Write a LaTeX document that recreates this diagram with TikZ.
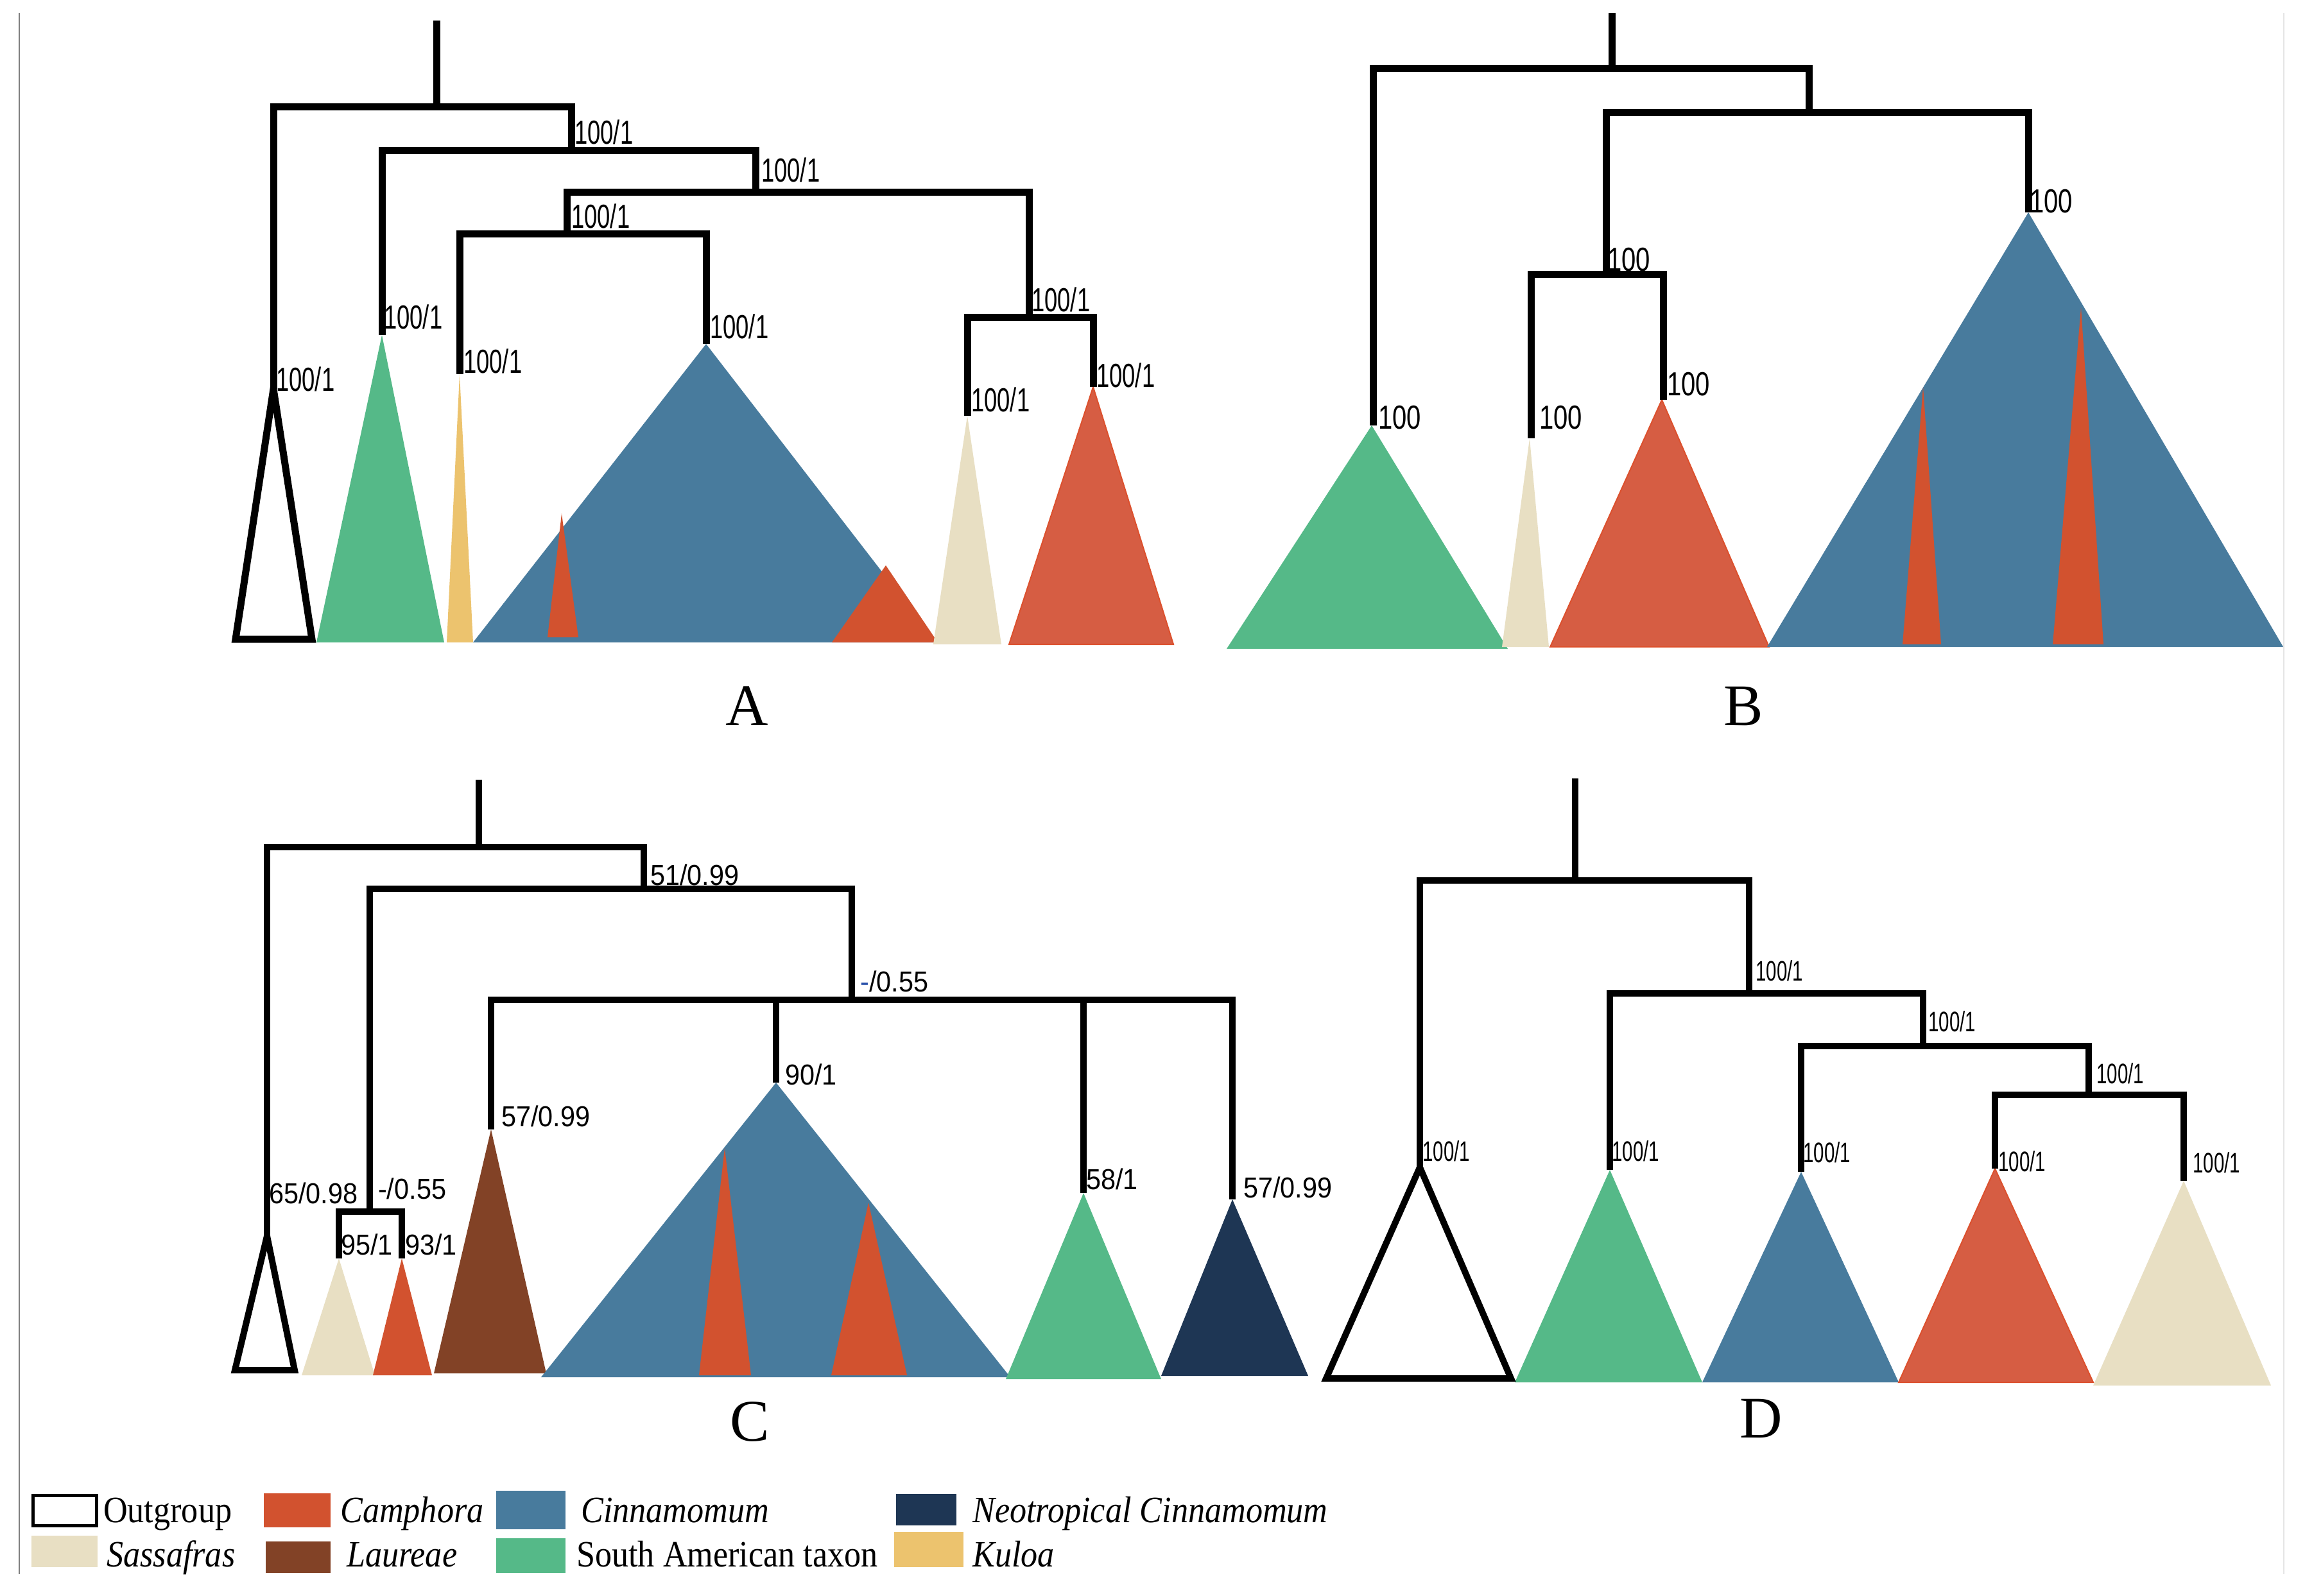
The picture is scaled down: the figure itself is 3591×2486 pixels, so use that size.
\documentclass[tikz,border=0pt]{standalone}
\usepackage{fontspec}
\setmainfont{Liberation Serif}
\newfontfamily\lblfA[FakeStretch=0.70]{Liberation Sans}
\newfontfamily\lblfB[FakeStretch=0.77]{Liberation Sans}
\newfontfamily\lblfC[FakeStretch=0.92]{Liberation Sans}
\newfontfamily\lblfD[FakeStretch=0.67]{Liberation Sans}
\newfontfamily\legf[FakeStretch=0.9]{Liberation Serif}
\definecolor{cgreen}{RGB}{85,185,136}
\definecolor{cblue}{RGB}{72,123,157}
\definecolor{ccam}{RGB}{210,82,47}
\definecolor{ccamL}{RGB}{214,93,67}
\definecolor{ccamE}{RGB}{220,80,45}
\definecolor{csas}{RGB}{232,223,195}
\definecolor{ckul}{RGB}{236,195,110}
\definecolor{clau}{RGB}{130,66,38}
\definecolor{cneo}{RGB}{30,54,84}
\definecolor{dashblue}{RGB}{40,80,170}
\tikzset{
  brA/.style={draw=black, line width=11pt, line join=miter},
  brC/.style={draw=black, line width=10pt, line join=miter},
  lblA/.style={font=\lblfA\fontsize{52}{52}\selectfont, inner sep=0pt, anchor=base west},
  lblB/.style={font=\lblfB\fontsize{52}{52}\selectfont, inner sep=0pt, anchor=base west},
  lblC/.style={font=\lblfC\fontsize{45}{45}\selectfont, inner sep=0pt, anchor=base west},
  lblD/.style={font=\lblfD\fontsize{44}{44}\selectfont, inner sep=0pt, anchor=base west},
  panel/.style={font=\fontsize{92}{92}\selectfont, inner sep=0pt, anchor=base},
  legtext/.style={font=\legf\fontsize{58}{58}\selectfont, inner sep=0pt, anchor=base west},
  bigcam/.style={fill=ccamL, draw=ccamE, line width=2pt, line join=miter},
}
\begin{document}
\begin{tikzpicture}[x=1pt,y=-1pt]
\useasboundingbox (0,0) rectangle (3591,2486);
\fill[white] (0,0) rectangle (3591,2486);
% frame lines
\draw[gray, line width=2.5pt] (30,20) -- (30,2453);
\draw[black!10, line width=1.5pt] (3558,20) -- (3558,2453);

% ================= Panel A =================
\coordinate (Atop) at (680,32);
\coordinate (A1) at (680,166);
\coordinate (Aout) at (426,606);
\coordinate (A2) at (890,234);
\coordinate (Agrn) at (595,522);
\coordinate (A3) at (1177,299);
\coordinate (A4) at (883,364);
\coordinate (Akul) at (716,583);
\coordinate (Acin) at (1100,536);
\coordinate (A5) at (1603,494);
\coordinate (Asas) at (1507,648);
\coordinate (Acam) at (1703,603);
\fill[cgreen] (Agrn) -- (692,1001) -- (493,1001) -- cycle;
\fill[ckul] (Akul) -- (737,1001) -- (696,1001) -- cycle;
\fill[cblue] (Acin) -- (1459,1001) -- (737,1001) -- cycle;
\fill[ccam] (875,800) -- (901,993) -- (853,993) -- cycle;
\fill[ccam] (1380,881) -- (1461,1001) -- (1296,1001) -- cycle;
\fill[csas] (Asas) -- (1560,1004) -- (1454,1004) -- cycle;
\draw[bigcam] (Acam) -- (1828,1004) -- (1572,1004) -- cycle;
\draw[brA] (Atop) -- (A1);
\draw[brA] (Aout) |- (A1) -| (A2);
\draw[brA] (Agrn) |- (A2) -| (A3);
\draw[brA] (A4) |- (A3) -| (A5);
\draw[brA] (Akul) |- (A4) -| (Acin);
\draw[brA] (Asas) |- (A5) -| (Acam);
\draw[brA, fill=white] (Aout) -- (486,996) -- (367,996) -- cycle;
\node[lblA] (lAout) at (430,609) {100/1};
\node[lblA] (lA2) at (895,224) {100/1};
\node[lblA] (lAgrn) at (598,512) {100/1};
\node[lblA] (lA3) at (1186,283) {100/1};
\node[lblA] (lA4) at (890,355) {100/1};
\node[lblA] (lAkul) at (722,581) {100/1};
\node[lblA] (lAcin) at (1106,527) {100/1};
\node[lblA] (lA5) at (1607,485) {100/1};
\node[lblA] (lAsas) at (1513,641) {100/1};
\node[lblA] (lAcam) at (1708,603) {100/1};
\node[panel] (pA) at (1164,1130) {A};

% ================= Panel B =================
\coordinate (Btop) at (2511,20);
\coordinate (B1) at (2511,107);
\coordinate (Bgrn) at (2139,663);
\coordinate (B2) at (2818,175);
\coordinate (B3) at (2502,427);
\coordinate (Bsas) at (2385,683);
\coordinate (Bcam) at (2591,623);
\coordinate (Bcin) at (3160,331);
\fill[cgreen] (2137,663) -- (2349,1011) -- (1911,1011) -- cycle;
\fill[csas] (2383,683) -- (2413,1008) -- (2340,1008) -- cycle;
\draw[bigcam] (2589,623) -- (2756,1008) -- (2415,1008) -- cycle;
\fill[cblue] (Bcin) -- (3557,1008) -- (2753,1008) -- cycle;
\fill[ccam] (2996,603) -- (3024,1004) -- (2964,1004) -- cycle;
\fill[ccam] (3242,479) -- (3277,1004) -- (3198,1004) -- cycle;
\draw[brA] (Btop) -- (B1);
\draw[brA] (Bgrn) |- (B1) -| (B2);
\draw[brA] (B3) |- (B2) -| (Bcin);
\draw[brA] (Bsas) |- (B3) -| (Bcam);
\node[lblB] (lBgrn) at (2147,668) {100};
\node[lblB] (lB3) at (2504,422) {100};
\node[lblB] (lBsas) at (2398,668) {100};
\node[lblB] (lBcam) at (2597,616) {100};
\node[lblB] (lBcin) at (3162,331) {100};
\node[panel] (pB) at (2716,1130) {B};

% ================= Panel C =================
\coordinate (Ctop) at (746,1215);
\coordinate (C1) at (746,1320);
\coordinate (Cout) at (416,1926);
\coordinate (C2) at (1003,1385);
\coordinate (CL) at (576,1888);
\coordinate (Csas) at (528,1961);
\coordinate (Ccam) at (626,1961);
\coordinate (C3) at (1327,1558);
\coordinate (Clau) at (765,1760);
\coordinate (Ccin) at (1209,1687);
\coordinate (Cgrn) at (1688,1859);
\coordinate (Cneo) at (1920,1869);
\fill[csas] (Csas) -- (584,2143) -- (470,2143) -- cycle;
\fill[ccam] (Ccam) -- (673,2143) -- (581,2143) -- cycle;
\fill[clau] (Clau) -- (851,2140) -- (676,2140) -- cycle;
\fill[cblue] (Ccin) -- (1574,2146) -- (843,2146) -- cycle;
\fill[ccam] (1129,1789) -- (1170,2143) -- (1089,2143) -- cycle;
\fill[ccam] (1353,1874) -- (1413,2143) -- (1295,2143) -- cycle;
\fill[cgreen] (Cgrn) -- (1809,2149) -- (1567,2149) -- cycle;
\fill[cneo] (Cneo) -- (2038,2144) -- (1809,2144) -- cycle;
\draw[brC] (Ctop) -- (C1);
\draw[brC] (Cout) |- (C1) -| (C2);
\draw[brC] (CL) |- (C2) -| (C3);
\draw[brC] (Csas) |- (CL) -| (Ccam);
\draw[brC] (Clau) |- (C3) -| (Cneo);
\draw[brC] (Ccin) -- (Ccin |- C3);
\draw[brC] (Cgrn) -- (Cgrn |- C3);
\draw[brC, fill=white] (Cout) -- (459,2135) -- (366,2135) -- cycle;
\node[lblC] (lCout) at (419,1875) {65/0.98};
\node[lblC] (lC2) at (1013,1379) {51/0.99};
\node[lblC] (lCL) at (589,1868) {-/0.55};
\node[lblC] (lCsas) at (531,1955) {95/1};
\node[lblC] (lCcam) at (631,1955) {93/1};
\node[lblC] (lC3) at (1340,1545) {{\color{dashblue}-}/0.55};
\node[lblC] (lClau) at (781,1755) {57/0.99};
\node[lblC] (lCcin) at (1223,1690) {90/1};
\node[lblC] (lCgrn) at (1692,1853) {58/1};
\node[lblC] (lCneo) at (1937,1866) {57/0.99};
\node[panel] (pC) at (1168,2245) {C};

% ================= Panel D =================
\coordinate (Dtop) at (2454,1213);
\coordinate (D1) at (2454,1372);
\coordinate (Dout) at (2212,1819);
\coordinate (D2) at (2725,1548);
\coordinate (Dgrn) at (2508,1823);
\coordinate (D3) at (2996,1630);
\coordinate (Dcin) at (2806,1826);
\coordinate (D4) at (3254,1706);
\coordinate (Dcam) at (3108,1821);
\coordinate (Dsas) at (3402,1840);
\fill[cgreen] (Dgrn) -- (2652,2154) -- (2360,2154) -- cycle;
\fill[cblue] (Dcin) -- (2958,2154) -- (2652,2154) -- cycle;
\draw[bigcam] (Dcam) -- (3261,2154) -- (2958,2154) -- cycle;
\fill[csas] (Dsas) -- (3538,2159) -- (3261,2159) -- cycle;
\draw[brC] (Dtop) -- (D1);
\draw[brC] (Dout) |- (D1) -| (D2);
\draw[brC] (Dgrn) |- (D2) -| (D3);
\draw[brC] (Dcin) |- (D3) -| (D4);
\draw[brC] (Dcam) |- (D4) -| (Dsas);
\draw[brC, fill=white] (Dout) -- (2354,2148) -- (2066,2148) -- cycle;
\node[lblD] (lDout) at (2216,1809) {100/1};
\node[lblD] (lD2) at (2735,1528) {100/1};
\node[lblD] (lDgrn) at (2511,1809) {100/1};
\node[lblD] (lD3) at (3004,1607) {100/1};
\node[lblD] (lDcin) at (2809,1811) {100/1};
\node[lblD] (lD4) at (3266,1688) {100/1};
\node[lblD] (lDcam) at (3113,1825) {100/1};
\node[lblD] (lDsas) at (3416,1827) {100/1};
\node[panel] (pD) at (2744,2240) {D};

% ================= Legend =================
\draw[black, line width=5pt] (51,2330) rectangle (150,2377);
\node[legtext] (tOut) at (161,2372) {Outgroup};
\fill[ccam] (411,2327) rectangle (515,2380);
\node[legtext] (tCam) at (530,2372) {\itshape Camphora};
\fill[cblue] (773,2323) rectangle (881,2383);
\node[legtext] (tCin) at (905,2372) {\itshape Cinnamomum};
\fill[cneo] (1396,2328) rectangle (1490,2377);
\node[legtext] (tNeo) at (1515,2372) {\itshape Neotropical Cinnamomum};
\fill[csas] (49,2393) rectangle (152,2442);
\node[legtext] (tSas) at (166,2441) {\itshape Sassafras};
\fill[clau] (414,2402) rectangle (515,2451);
\node[legtext] (tLau) at (540,2441) {\itshape Laureae};
\fill[cgreen] (773,2397) rectangle (881,2451);
\node[legtext] (tSA) at (898,2441) {South American taxon};
\fill[ckul] (1393,2387) rectangle (1501,2442);
\node[legtext] (tKul) at (1515,2441) {\itshape Kuloa};
\end{tikzpicture}
\end{document}
